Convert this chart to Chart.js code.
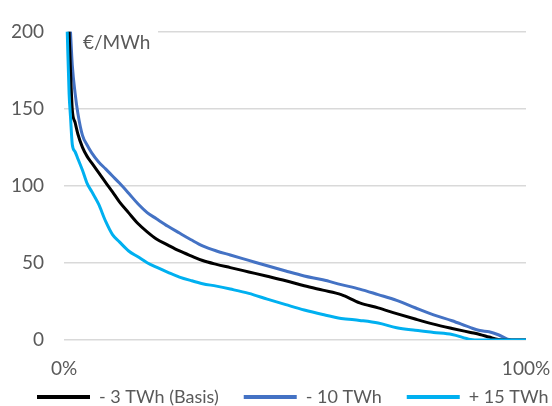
<!DOCTYPE html>
<html>
<head>
<meta charset="utf-8">
<script src="https://cdn.jsdelivr.net/npm/chart.js@4.4.1/dist/chart.umd.min.js"></script>
<style>
  html, body { margin: 0; padding: 0; background: #ffffff; }
  #wrap { width: 552px; height: 406px; }
</style>
</head>
<body>
<div id="wrap"><canvas id="chart" width="552" height="406"></canvas></div>
<script>
// Price duration curves: share of hours (%) against price (€/MWh)
const shareOfHours = [0.7, 1.1, 1.4, 1.8, 2.4, 3, 4, 5, 6, 7.5, 9, 10.5, 12, 14, 16, 18, 20, 22.5, 25, 27.5, 30, 33, 36, 40, 44, 48, 52, 56, 60, 64, 68, 72, 76, 80, 84, 88, 90, 92, 94, 96, 98, 100];

const priceBasis = [null, 200, 175, 149, 141, 133.5, 124.8, 119, 114.8, 108.5, 102.2, 96, 89.5, 82.4, 75.5, 70.1, 65.5, 61.5, 57.7, 54.5, 51.5, 49, 46.9, 44.1, 41.3, 38.4, 35.2, 32.3, 29.4, 24.1, 20.8, 17.1, 13.6, 10.3, 7.5, 4.9, 3.6, 1.9, 0.3, 0, 0, 0];
const priceMinus10 = [null, null, 200, 178, 160, 147, 132.6, 126.4, 121.3, 115.4, 110.9, 106.3, 101.7, 95.1, 88.3, 82.6, 78.6, 73.7, 69.3, 65, 61, 57.7, 55.1, 51.6, 48.1, 44.7, 41.5, 39, 35.9, 33, 29.4, 25.7, 20.9, 16.3, 12.5, 8, 6.1, 5.3, 3.4, 0.6, 0, 0];
const pricePlus15 = [200, 160, 145, 126.5, 122, 117.5, 110, 101.5, 96.2, 88, 77, 68.3, 63.6, 57.7, 53.9, 50.1, 47.2, 43.9, 40.8, 38.5, 36.5, 34.9, 33, 30.2, 26.5, 22.9, 19.4, 16.5, 14, 12.7, 11, 8, 6.3, 4.9, 3.6, 0.4, 0, 0, 0, 0, 0, 0];

const seriesLabels = ['- 3 TWh (Basis)', '- 10 TWh', '+ 15 TWh'];
const xTickValues = [0, 100];
const yUnitLabel = '€/MWh';

const FONT = 'Lato';
const TEXT_COLOR = '#595959';

function points(values) {
  return shareOfHours.map((x, i) => ({ x: x, y: values[i] }));
}

// Unit label in the top-left corner of the plot, on a white patch over the grid
const unitLabel = {
  id: 'unitLabel',
  beforeDatasetsDraw(chart) {
    const { ctx, chartArea } = chart;
    ctx.save();
    ctx.fillStyle = '#ffffff';
    ctx.fillRect(chartArea.left, chartArea.top - 8, 94, 28);
    ctx.fillStyle = TEXT_COLOR;
    ctx.font = '19px ' + FONT;
    ctx.textAlign = 'left';
    ctx.textBaseline = 'middle';
    ctx.fillText(yUnitLabel, chartArea.left + 19, chartArea.top + 11.5);
    ctx.restore();
  }
};

const lineStyle = { borderWidth: 3, pointRadius: 0, cubicInterpolationMode: 'monotone', fill: false };

new Chart(document.getElementById('chart'), {
  type: 'line',
  data: {
    datasets: [
      Object.assign({ label: seriesLabels[0], data: points(priceBasis), borderColor: '#000000', backgroundColor: '#000000', order: 1 }, lineStyle),
      Object.assign({ label: seriesLabels[1], data: points(priceMinus10), borderColor: '#4472C4', backgroundColor: '#4472C4', order: 2 }, lineStyle),
      Object.assign({ label: seriesLabels[2], data: points(pricePlus15), borderColor: '#00B0F0', backgroundColor: '#00B0F0', order: 0 }, lineStyle)
    ]
  },
  options: {
    responsive: false,
    animation: false,
    layout: { padding: { top: 25, left: 12, right: -40, bottom: -10 } },
    scales: {
      x: {
        type: 'linear',
        min: 0,
        max: 100,
        grid: { display: false, drawTicks: false },
        border: { display: false },
        afterBuildTicks(scale) { scale.ticks = xTickValues.map(v => ({ value: v })); },
        afterFit(scale) { scale.height = 23; scale.paddingRight = 26; },
        ticks: {
          // mirrored labels are not clipped to the (short) axis box;
          // the negative padding puts them below the axis line
          mirror: true,
          padding: -40,
          maxRotation: 0,
          color: TEXT_COLOR,
          font: { family: FONT, size: 19 },
          callback: v => v + '%'
        }
      },
      y: {
        min: 0,
        max: 200,
        grid: { color: '#d9d9d9', lineWidth: 1.5, drawTicks: false },
        border: { display: false },
        afterFit(scale) { scale.width = 52; },
        ticks: {
          stepSize: 50,
          padding: 20,
          color: TEXT_COLOR,
          font: { family: FONT, size: 19 }
        }
      }
    },
    plugins: {
      tooltip: { enabled: false },
      legend: {
        position: 'bottom',
        align: 'start',
        labels: {
          boxWidth: 53,
          boxHeight: 4,
          padding: 25,
          color: TEXT_COLOR,
          font: { family: FONT, size: 18 },
          generateLabels(chart) {
            return chart.data.datasets.map((ds, i) => ({
              text: ds.label,
              fillStyle: ds.borderColor,
              strokeStyle: ds.borderColor,
              lineWidth: 0,
              hidden: false,
              datasetIndex: i,
              fontColor: TEXT_COLOR
            }));
          }
        }
      }
    }
  },
  plugins: [unitLabel]
});
</script>
</body>
</html>
